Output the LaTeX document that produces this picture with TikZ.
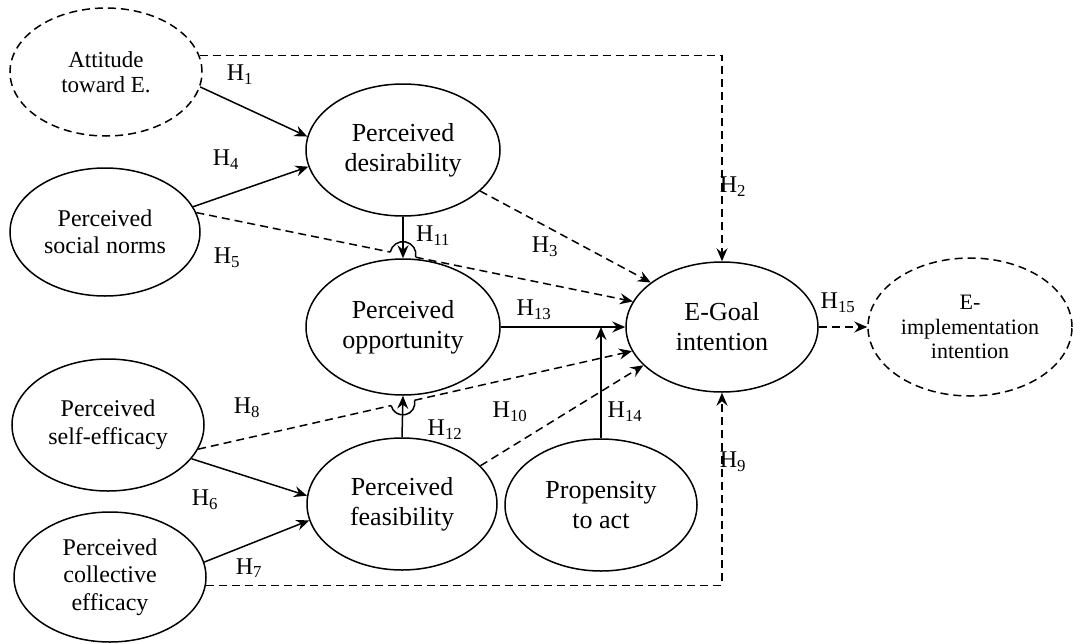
\documentclass[tikz,border=0pt]{standalone}
\usepackage{fontspec}
\setmainfont{Liberation Serif}
\usetikzlibrary{arrows.meta,shapes.geometric,intersections,calc}
\begin{document}
\begin{tikzpicture}[x=1pt,y=-1pt,
  ln/.style={line width=1.5pt},
  lat/.style={ellipse, draw, ln, inner sep=0pt, align=center},
  bigf/.style={font=\fontsize{26}{30}\selectfont},
  midf/.style={font=\fontsize{24}{27.5}\selectfont},
  attf/.style={font=\fontsize{23}{25}\selectfont},
  smlf/.style={font=\fontsize{22}{24.5}\selectfont},
  arr/.style={ln, -{Stealth[length=13pt,width=11pt,inset=4.5pt]}},
  dsh/.style={dash pattern=on 8pt off 5pt},
  lab/.style={font=\fontsize{24}{26}\selectfont, inner sep=0pt}
]
\useasboundingbox (0,0) rectangle (1073,643);
% latent variables
\node[lat,dsh,attf,minimum width=192pt,minimum height=128pt] (att) at (106,72) {Attitude\\toward E.};
\node[lat,bigf,minimum width=194pt,minimum height=132pt] (des) at (403,150) {Perceived\\desirability};
\node[lat,midf,minimum width=190pt,minimum height=128pt] (soc) at (105,232) {Perceived\\social norms};
\node[lat,bigf,minimum width=194pt,minimum height=136pt] (opp) at (403,327) {Perceived\\opportunity};
\node[lat,bigf,minimum width=192pt,minimum height=130pt] (goal) at (722,327) {E-Goal\\intention};
\node[lat,dsh,smlf,minimum width=204pt,minimum height=138pt] (impl) at (970,327) {E-\\implementation\\intention};
\node[lat,midf,minimum width=192pt,minimum height=132pt] (self) at (108,425) {Perceived\\self-efficacy};
\node[lat,bigf,minimum width=190pt,minimum height=132pt] (fea) at (402,504) {Perceived\\feasibility};
\node[lat,bigf,minimum width=192pt,minimum height=132pt] (prop) at (601,505) {Propensity\\to act};
\node[lat,midf,minimum width=192pt,minimum height=130pt] (col) at (110,577) {Perceived\\collective\\efficacy};
% paths
\draw[arr] (att.-9) -- (des.172);
\draw[arr,dsh] (att.10) -| (goal.north);
\draw[arr] (soc.16) -- (des.190);
\draw[arr,dsh] (des.-28) -- (goal.148);
% H5 with hop over H11
\path[name path=h5] (soc.12) -- (goal.164);
\path[name path=h11] (des.south) -- (opp.north);
\path[name intersections={of=h5 and h11, by=xa}];
\draw[ln,dsh] (soc.12) -- ($(xa)!13pt!(soc.12)$);
\draw[arr,dsh] ($(xa)!13pt!(goal.164)$) -- (goal.164);
\begin{scope}[shift={(xa)},rotate=-11.3]
  \draw[ln] (-13pt,0pt) arc[start angle=180,end angle=0,radius=13pt];
\end{scope}
\draw[arr] (des.south) -- (opp.north);
\draw[arr] (opp.east) -- (goal.west);
\draw[arr] (prop.north) -- (prop.north |- opp.east);
% H8 with hop over H12
\path[name path=h8] (self.-15) -- (goal.195);
\path[name path=h12] (fea.north) -- (opp.south);
\path[name intersections={of=h8 and h12, by=xb}];
\draw[ln,dsh] (self.-15) -- ($(xb)!12pt!(self.-15)$);
\draw[arr,dsh] ($(xb)!12pt!(goal.195)$) -- (goal.195);
\begin{scope}[shift={(xb)},rotate=12.8]
  \draw[ln] (-12pt,0pt) arc[start angle=180,end angle=360,radius=12pt];
\end{scope}
\draw[arr] (fea.north) -- (opp.south);
\draw[arr] (self.-22) -- (fea.175);
\draw[arr] (col.9) -- (fea.190);
\draw[arr,dsh] (col.-5) -| (goal.south);
\draw[arr,dsh] (fea.26) -- (goal.206);
\draw[arr,dsh] (goal.east) -- (impl.west);
% labels
\node[lab] (l1) at (240,75) {H\textsubscript{1}};
\node[lab] (l2) at (733,187) {H\textsubscript{2}};
\node[lab] (l3) at (545,247) {H\textsubscript{3}};
\node[lab] (l4) at (226,160) {H\textsubscript{4}};
\node[lab] (l5) at (227,258) {H\textsubscript{5}};
\node[lab] (l6) at (205,500) {H\textsubscript{6}};
\node[lab] (l7) at (249,568) {H\textsubscript{7}};
\node[lab] (l8) at (247,408) {H\textsubscript{8}};
\node[lab] (l9) at (733,462) {H\textsubscript{9}};
\node[lab] (l10) at (510,412) {H\textsubscript{10}};
\node[lab] (l11) at (433,236) {H\textsubscript{11}};
\node[lab] (l12) at (445,430) {H\textsubscript{12}};
\node[lab] (l13) at (534,310) {H\textsubscript{13}};
\node[lab] (l14) at (625,412) {H\textsubscript{14}};
\node[lab] (l15) at (838,303) {H\textsubscript{15}};
\end{tikzpicture}
\end{document}
